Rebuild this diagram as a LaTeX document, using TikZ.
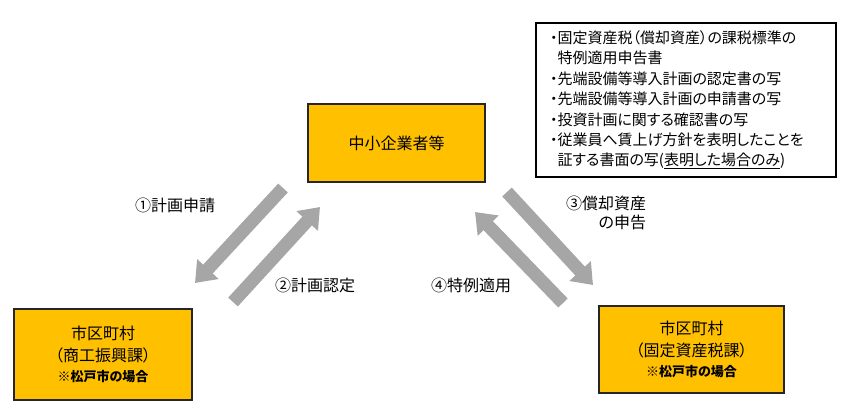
\documentclass[tikz,border=0pt]{standalone}
\usepackage{fontspec}
\setmainfont{Noto Sans CJK JP}[RawFeature=+palt]
\usetikzlibrary{arrows.meta,positioning}
\definecolor{boxfill}{HTML}{FFC000}
\definecolor{flowgray}{HTML}{A6A6A6}
\tikzset{
    box/.style =    {rectangle,
                    fill=boxfill,
                    draw=black!85,
                    text=black,
                    line width=1.2pt,
                    align=center,
                    inner sep=0pt,
                    font=\fontsize{16}{22}\selectfont},
    memo/.style =   {rectangle,
                    fill=white,
                    draw=black,
                    text=black,
                    line width=1.2pt,
                    align=left,
                    text width=272pt,
                    inner xsep=14pt,
                    inner ysep=0pt,
                    font=\fontsize{15}{20.4}\selectfont},
    tag/.style =    {text=black,
                    inner sep=0pt,
                    font=\fontsize{16}{19}\selectfont},
    flow/.style =   {draw=flowgray,
                    line width=13pt,
                    -{Triangle[length=19pt,width=28pt]}}
}
\newcommand{\cityname}{\fontsize{13}{19}\selectfont\bfseries ※松戸市の場合}

\begin{document}
\begin{tikzpicture}[x=1pt,y=-1pt]
            \useasboundingbox (0,0) rectangle (850,410);
            % boxes
            \node[box,minimum width=177pt,minimum height=78pt]  (SME)   at (396.5,143)   {中小企業者等};
            \node[box,minimum width=178pt,minimum height=91pt]  (CityL) at (103,354.5)   {市区町村\\（商工振興課）\\[-2pt]{\cityname}};
            \node[box,minimum width=185pt,minimum height=87pt]  (CityR) at (691.5,349.5) {市区町村\\（固定資産税課）\\[-2pt]{\cityname}};
            \node[memo,minimum height=154pt] (Docs) at (686,100) {・固定資産税（償却資産）の課税標準の\\
                \phantom{・}特例適用申告書\\
                ・先端設備等導入計画の認定書の写\\
                ・先端設備等導入計画の申請書の写\\
                ・投資計画に関する確認書の写\\
                ・従業員へ賃上げ方針を表明したことを\\
                \phantom{・}証する書面の写(\underline{表明した場合のみ})};
            % arrow ends
            \coordinate (a1s) at (283,188);
            \coordinate (a1e) at (195,283);
            \coordinate (a2s) at (233,302);
            \coordinate (a2e) at (320,207);
            \coordinate (a3s) at (507,192);
            \coordinate (a3e) at (593,285);
            \coordinate (a4s) at (563,303);
            \coordinate (a4e) at (475,212);
            \draw[flow] (a1s) -- (a1e);
            \draw[flow] (a2s) -- (a2e);
            \draw[flow] (a3s) -- (a3e);
            \draw[flow] (a4s) -- (a4e);
            % labels
            \node[tag]              (L1) at (175,205)   {①計画申請};
            \node[tag]              (L2) at (315,285)   {②計画認定};
            \node[tag,align=right]  (L3) at (606,212.5) {③償却資産\\の申告};
            \node[tag]              (L4) at (471,285)   {④特例適用};
\end{tikzpicture}
\end{document}
